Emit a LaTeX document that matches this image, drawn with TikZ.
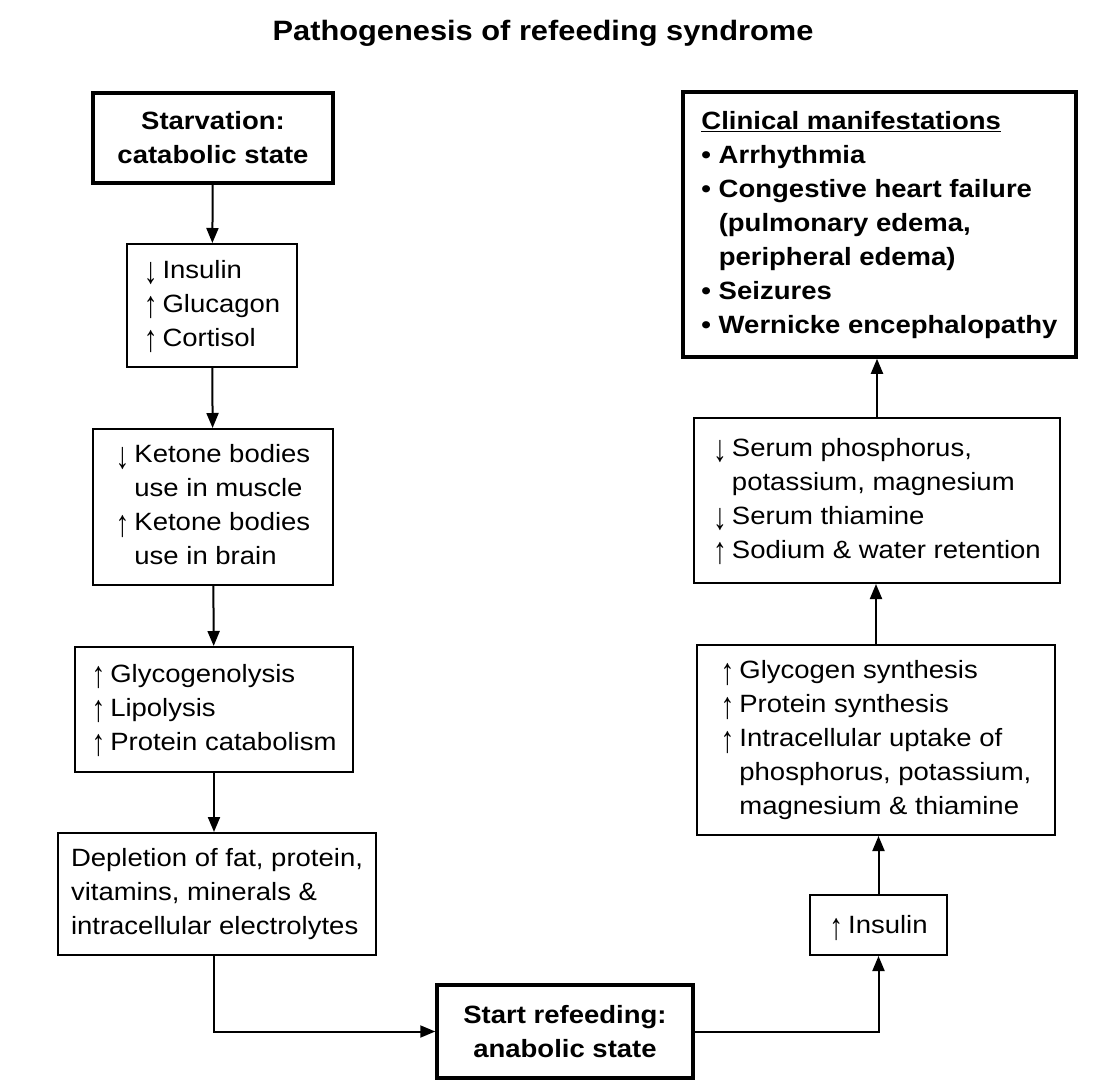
\documentclass[tikz,border=0pt]{standalone}
\usepackage{fontspec}
\setmainfont[FakeStretch=1.1]{Liberation Sans}
\usetikzlibrary{arrows.meta}
\newcommand{\uparr}{\smash{\raisebox{-0.22em}{\scalebox{1}[1.5]{↑}}}}
\newcommand{\dnarr}{\smash{\raisebox{-0.22em}{\scalebox{1}[1.5]{↓}}}}
\begin{document}
\begin{tikzpicture}[x=1pt,y=-1pt,
  box/.style={draw, line width=2pt, inner sep=0pt, font=\fontsize{25}{34}\selectfont, align=left},
  thickbox/.style={draw, line width=3.5pt, inner sep=0pt, font=\fontsize{25}{34}\selectfont\bfseries, align=center},
  arr/.style={line width=2pt, -{Triangle[width=12pt,length=15pt]}}]
\useasboundingbox[fill=white] (0,0) rectangle (1120,1084);

\node[font=\fontsize{28}{34}\selectfont\bfseries] (title) at (543,33) {Pathogenesis of refeeding syndrome};

\node[thickbox, minimum width=240, minimum height=90] (starv) at (213,138) {Starvation:\\catabolic state};

\node[box, minimum width=170, minimum height=123] (ins) at (212,305.5)
  {\begin{tabular}{@{}l@{\hspace{5pt}}l@{}}\dnarr&Insulin\\\uparr&Glucagon\\\uparr&Cortisol\end{tabular}};

\node[box, minimum width=240, minimum height=156] (ket) at (213,507)
  {\begin{tabular}{@{}l@{\hspace{5pt}}l@{}}\dnarr&Ketone bodies\\&use in muscle\\\uparr&Ketone bodies\\&use in brain\end{tabular}};

\node[box, minimum width=278, minimum height=125] (gly) at (214,709.5)
  {\begin{tabular}{@{}l@{\hspace{5pt}}l@{}}\uparr&Glycogenolysis\\\uparr&Lipolysis\\\uparr&Protein catabolism\end{tabular}};

\node[box, minimum width=318, minimum height=122] (depl) at (217,894)
  {Depletion of fat, protein,\\vitamins, minerals \&\\intracellular electrolytes};

\node[thickbox, minimum width=256, minimum height=93] (refeed) at (565,1031.5) {Start refeeding:\\anabolic state};

\node[box, minimum width=137, minimum height=60] (ins2) at (878.5,925) {\uparr\hspace{5pt}Insulin};

\node[box, minimum width=358, minimum height=190] (gsyn) at (876,740)
  {\begin{tabular}{@{}l@{\hspace{5pt}}l@{}}\uparr&Glycogen synthesis\\\uparr&Protein synthesis\\\uparr&Intracellular uptake of\\&phosphorus, potassium,\\&magnesium \& thiamine\end{tabular}};

\node[box, minimum width=366, minimum height=165] (serum) at (877,500.5)
  {\begin{tabular}{@{}l@{\hspace{5pt}}l@{}}\dnarr&Serum phosphorus,\\&potassium, magnesium\\\dnarr&Serum thiamine\\\uparr&Sodium \& water retention\end{tabular}};

\node[thickbox, minimum width=393, minimum height=265, align=left] (clin) at (879.5,224.5)
  {\begin{tabular}{@{}l@{ }l@{}}\multicolumn{2}{@{}l@{}}{\underline{Clinical manifestations}}\\
  •&Arrhythmia\\•&Congestive heart failure\\&(pulmonary edema,\\&peripheral edema)\\•&Seizures\\•&Wernicke encephalopathy\end{tabular}};

\draw[arr] (starv) -- (ins);
\draw[arr] (ins) -- (ket);
\draw[arr] (ket) -- (gly);
\draw[arr] (gly.south) -- (gly.south |- depl.north);
\draw[arr] (depl.south -| gly.south) |- (refeed.west);
\draw[arr] (refeed.east) -| (ins2.south);
\draw[arr] (ins2) -- (ins2 |- gsyn.south);
\draw[arr] (gsyn) -- (gsyn |- serum.south);
\draw[arr] (serum) -- (serum |- clin.south);
\end{tikzpicture}
\end{document}
